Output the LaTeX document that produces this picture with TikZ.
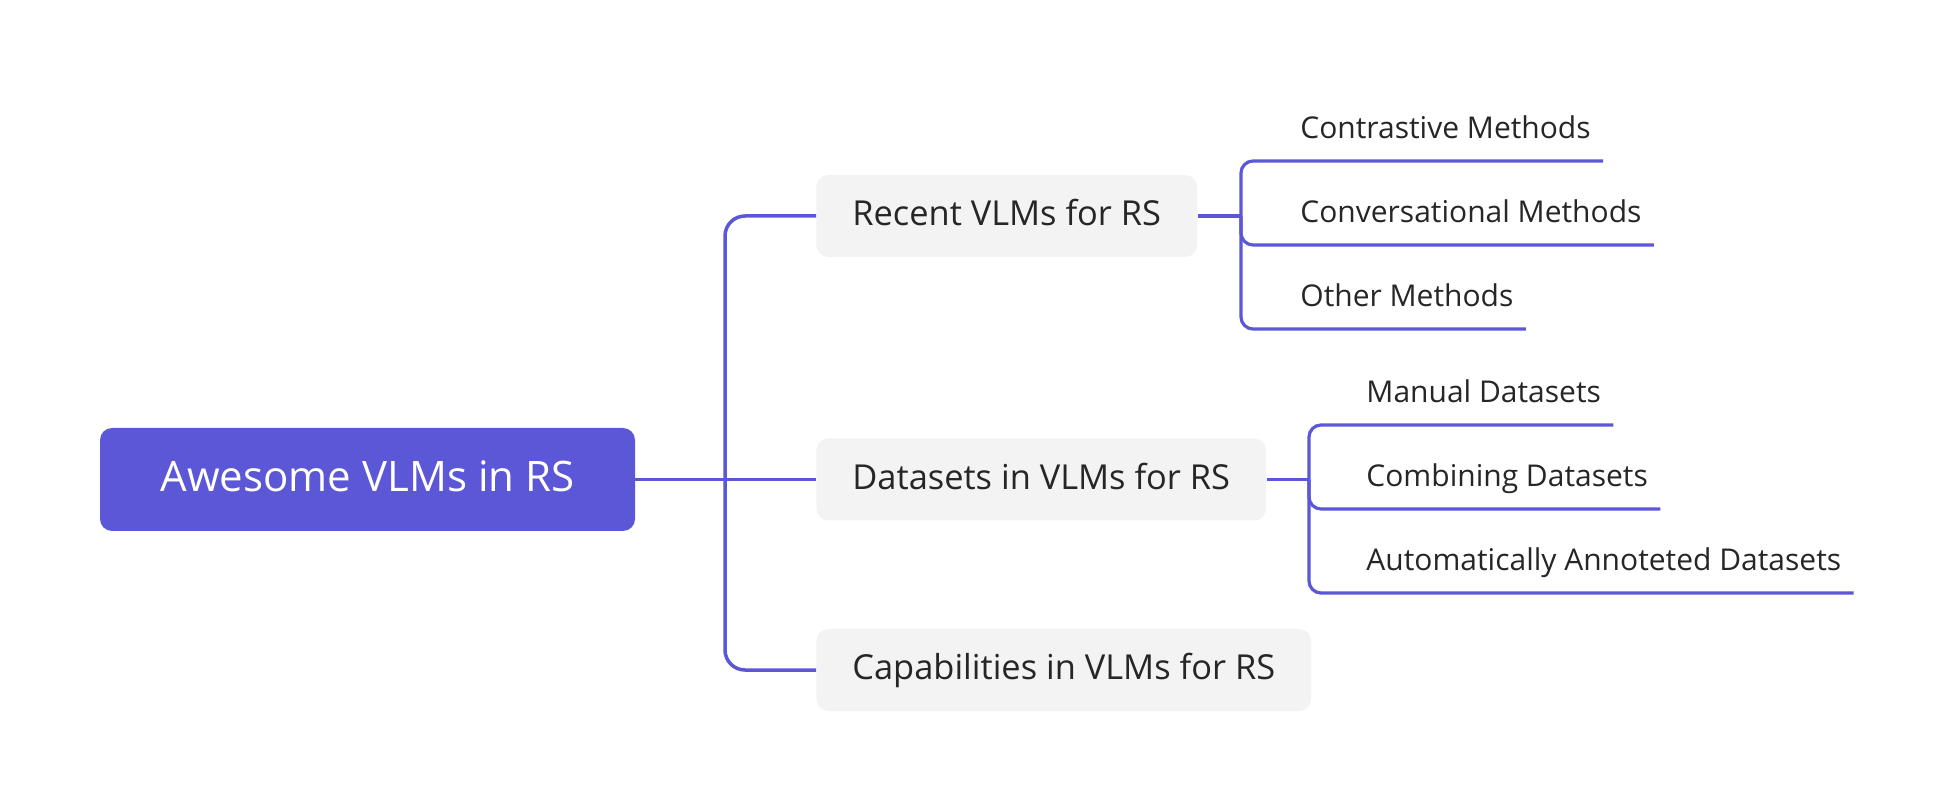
\documentclass[tikz,border=0pt]{standalone}
\usepackage{fontspec}
\setmainfont{Open Sans}
\usetikzlibrary{positioning}
\definecolor{vlmpurple}{RGB}{91,87,214}
\definecolor{topicgray}{RGB}{243,243,243}
\definecolor{inkgray}{RGB}{38,38,38}
\tikzstyle{root} = [rectangle, rounded corners=6pt, minimum width=267.5pt, minimum height=51.5pt, text centered, text height=16pt, text depth=4pt, fill=vlmpurple, text=white, font=\fontsize{21}{25}\selectfont]
\tikzstyle{topic} = [rectangle, rounded corners=6pt, minimum height=41pt, inner xsep=18pt, anchor=west, text height=13pt, text depth=3.3pt, fill=topicgray, text=inkgray, font=\fontsize{17.2}{20}\selectfont]
\tikzstyle{subtopic} = [rectangle, minimum height=34pt, inner xsep=6pt, anchor=south west, text height=14.5pt, text depth=2.9pt, text=inkgray, font=\fontsize{15}{18}\selectfont]
\tikzstyle{branch} = [vlmpurple, line width=1.75pt, rounded corners=10pt]
\tikzstyle{twig} = [vlmpurple, line width=1.6pt, rounded corners=6pt]

\begin{document}
\begin{tikzpicture}[x=0.5pt, y=-0.5pt, node distance=42pt]
\useasboundingbox (0,0) rectangle (1956,812);

\node (Root)[root] at (367.5,479.5) {Awesome VLMs in RS};
\node (RecentVLM)[topic] at (816,216) {Recent VLMs for RS};
\node (DataVLM)[topic] at (816,479.5) {Datasets in VLMs for RS};
\node (CapVLM)[topic] at (816,670) {Capabilities in VLMs for RS};
\coordinate (Trunk) at (725,479.5);
\draw [branch](Root) -- (DataVLM);
\draw [branch](Trunk) |- (RecentVLM);
\draw [branch](Trunk) |- (CapVLM);

\node (Contrast)[subtopic] at (1288,161) {Contrastive Methods};
\node (Convers)[subtopic, below=of Contrast.south west, anchor=south west] {Conversational Methods};
\node (OtherM)[subtopic, below=of Convers.south west, anchor=south west] {Other Methods};
\coordinate (RecentFork) at (1241,216);
\draw [twig](RecentVLM) -- (RecentFork);
\draw [twig](RecentFork) |- (Contrast.south west) -- (Contrast.south east);
\draw [twig](RecentFork) |- (Convers.south west) -- (Convers.south east);
\draw [twig](RecentFork) |- (OtherM.south west) -- (OtherM.south east);

\node (ManualD)[subtopic] at (1354,425) {Manual Datasets};
\node (CombD)[subtopic, below=of ManualD.south west, anchor=south west] {Combining Datasets};
\node (AutoD)[subtopic, below=of CombD.south west, anchor=south west] {Automatically Annoteted Datasets};
\coordinate (DataFork) at (1309,479.5);
\draw [twig](DataVLM) -- (DataFork);
\draw [twig](DataFork) |- (ManualD.south west) -- (ManualD.south east);
\draw [twig](DataFork) |- (CombD.south west) -- (CombD.south east);
\draw [twig](DataFork) |- (AutoD.south west) -- (AutoD.south east);
\end{tikzpicture}
\end{document}
